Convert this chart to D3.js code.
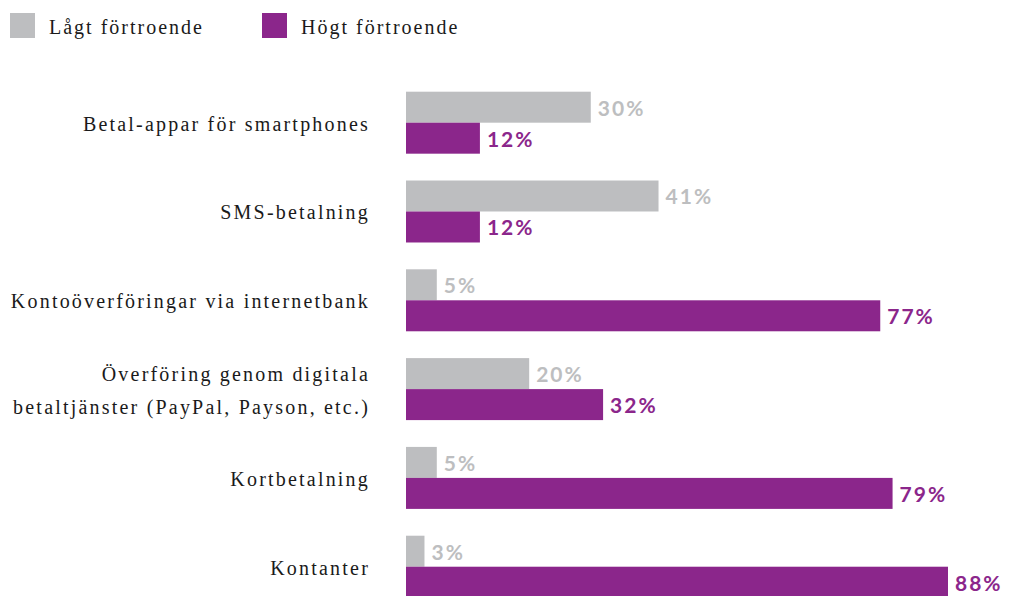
<!DOCTYPE html>
<html>
<head>
<meta charset="utf-8">
<script src="https://cdn.jsdelivr.net/npm/d3@7"></script>
<style>
  body { margin: 0; background: white; }
  text { font-family: "Liberation Serif", serif; }
</style>
</head>
<body>
<div id="chart"></div>
<script>
let width = 1009;
let height = 596;

let categories = [
  "Betal-appar för smartphones",
  "SMS-betalning",
  "Kontoöverföringar via internetbank",
  "Överföring genom digitala|betaltjänster (PayPal, Payson, etc.)",
  "Kortbetalning",
  "Kontanter",
];
let lowValues = [30, 41, 5, 20, 5, 3];
let highValues = [12, 12, 77, 32, 79, 88];
let seriesNames = ["Lågt förtroende", "Högt förtroende"];
let colors = ["#bdbec0", "#8b268b"];

var svg = d3
  .select("#chart")
  .append("svg")
  .attr("width", width)
  .attr("height", height);

// Scales
let x = d3.scaleLinear().domain([0, 88]).range([406, 948]);
let y = d3
  .scaleBand()
  .domain(categories)
  .range([91.7, 597.7])
  .paddingInner(0.302)
  .paddingOuter(0);
let sub = d3.scaleBand().domain([0, 1]).range([0, y.bandwidth()]);

let rows = categories.map((c, i) => ({ cat: c, vals: [lowValues[i], highValues[i]] }));

let g = svg.selectAll(".row").data(rows).join("g")
  .attr("class", "row")
  .attr("transform", (d) => "translate(0," + y(d.cat) + ")");

// Bars
g.selectAll("rect")
  .data((d) => d.vals)
  .join("rect")
  .attr("x", x(0))
  .attr("y", (d, i) => sub(i))
  .attr("width", (d) => x(d) - x(0))
  .attr("height", sub.bandwidth())
  .attr("fill", (d, i) => colors[i]);

// Value labels
g.selectAll(".val")
  .data((d) => d.vals)
  .join("text")
  .attr("class", "val")
  .attr("x", (d) => x(d) + 7)
  .attr("y", (d, i) => sub(i) + sub.bandwidth() / 2)
  .attr("dy", "0.4em")
  .style("font-family", "Lato, sans-serif")
  .style("font-weight", "bold")
  .style("font-size", "21px")
  .style("letter-spacing", "2px")
  .attr("fill", (d, i) => colors[i])
  .text((d) => d + "%");

// Category labels
g.each(function (d) {
  let lines = d.cat.split("|");
  let t = d3.select(this).append("text")
    .attr("text-anchor", "end")
    .attr("x", 370)
    .style("font-size", "20px")
    .style("letter-spacing", "2.2px")
    .attr("fill", "#1a1a1a");
  lines.forEach((l, k) => {
    t.append("tspan")
      .attr("x", 370)
      .attr("y", y.bandwidth() / 2 + (k - (lines.length - 1) / 2) * 33)
      .attr("dy", "0.4em")
      .text(l);
  });
});

// Legend
let legend = svg.selectAll(".legend").data(seriesNames).join("g")
  .attr("class", "legend")
  .attr("transform", (d, i) => "translate(" + [10, 262][i] + ",13)");
legend.append("rect").attr("width", 25).attr("height", 25).attr("fill", (d, i) => colors[i]);
legend.append("text")
  .attr("x", 39)
  .attr("y", 12.5)
  .attr("dy", "0.4em")
  .style("font-size", "20px")
  .style("letter-spacing", "2px")
  .attr("fill", "#1a1a1a")
  .text((d) => d);
</script>
</body>
</html>
